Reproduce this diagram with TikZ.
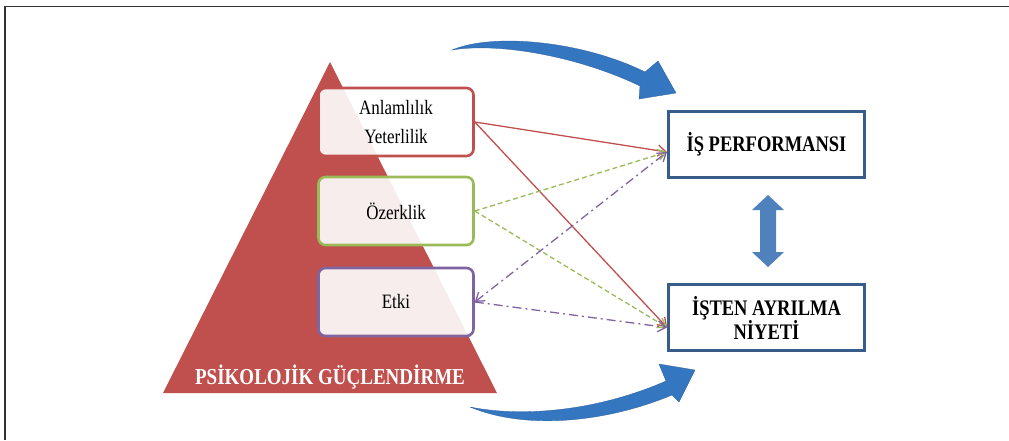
\documentclass[tikz,border=0pt]{standalone}
\usepackage{fontspec}
\setmainfont{Liberation Serif}
\usetikzlibrary{arrows.meta,calc}
\definecolor{pred}{RGB}{192,80,77}
\definecolor{pgreen}{RGB}{155,187,89}
\definecolor{ppurple}{RGB}{128,100,162}
\definecolor{pblue}{RGB}{56,93,138}
\definecolor{abl}{RGB}{79,129,189}
\definecolor{cbl}{RGB}{52,118,192}
\newcommand{\tall}[1]{\scalebox{1}[1.2]{#1}}
\begin{document}
\begin{tikzpicture}[x=1pt,y=-1pt,
  dim/.style={draw=#1,line width=2.6pt,rounded corners=7pt,fill=white,fill opacity=0.9,text opacity=1,minimum width=155pt,minimum height=68pt,font=\fontsize{17}{29}\selectfont,align=center,inner sep=0pt},
  outbox/.style={draw=pblue,line width=3pt,fill=white,minimum width=196pt,minimum height=66pt,font=\fontsize{18.5}{24}\selectfont\bfseries,align=center,inner sep=0pt},
  conn/.style={line width=1.3pt,-{Straight Barb[length=8pt,width=11pt]}},
  bigarrow/.style={fill=cbl,draw=cbl!80!black,line width=0.3pt}]
\useasboundingbox (0,0) rectangle (1009,440);
% frame
\draw[line width=1.6pt,draw=black!80] (5,440) -- (5,6.5) -- (1009,6.5);
% pyramid
\fill[pred] (163,393) -- (330,62) -- (497,393) -- cycle;
\node[text=white,font=\fontsize{19}{20}\selectfont\bfseries] (title) at (330,377) {\tall{PSİKOLOJİK GÜÇLENDİRME}};
% dimension boxes
\node[dim=pred] (anl) at (396,122) {\tall{Anlamlılık}\\\tall{Yeterlilik}};
\node[dim=pgreen] (oz) at (396,211) {\tall{Özerklik}};
\node[dim=ppurple] (etki) at (396,302) {\tall{Etki}};
% outcome boxes
\node[outbox] (isp) at (766.5,144) {\tall{İŞ PERFORMANSI}};
\node[outbox] (ayr) at (766.5,317.5) {\tall{İŞTEN AYRILMA}\\\tall{NİYETİ}};
\coordinate (p1) at ($(isp.west)+(0,8)$);
\coordinate (p2) at ($(ayr.west)+(0,10)$);
% connectors
\draw[conn,draw=pred] (anl.east) -- (p1);
\draw[conn,draw=pred] (anl.east) -- (p2);
\draw[conn,draw=pgreen,dash pattern=on 5pt off 3pt] (oz.east) -- (p1);
\draw[conn,draw=pgreen,dash pattern=on 5pt off 3pt] (oz.east) -- (p2);
\draw[conn,draw=ppurple,dash pattern=on 9pt off 4pt on 2pt off 4pt,{Straight Barb[length=8pt,width=11pt]}-{Straight Barb[length=8pt,width=11pt]}] (etki.east) -- (p1);
\draw[conn,draw=ppurple,dash pattern=on 9pt off 4pt on 2pt off 4pt] (etki.east) -- (p2);
% double arrow between outcomes
\fill[abl] (768,195) -- (784,210) -- (776,210) -- (776,252) -- (784,252) -- (768,267) -- (752,252) -- (760,252) -- (760,210) -- (752,210) -- cycle;
% big curved arrows
\path[bigarrow] (452,50) .. controls (495,32) and (585,42) .. (645,72) -- (658,61) -- (676,93) -- (639,99) -- (640,86) .. controls (580,57) and (500,42) .. (452,50) -- cycle;
\path[bigarrow] (470,407) .. controls (525,430) and (605,423) .. (672,395) -- (679,402) -- (695,370) -- (659,364) -- (666,381) .. controls (600,410) and (525,418) .. (470,407) -- cycle;
\end{tikzpicture}
\end{document}
